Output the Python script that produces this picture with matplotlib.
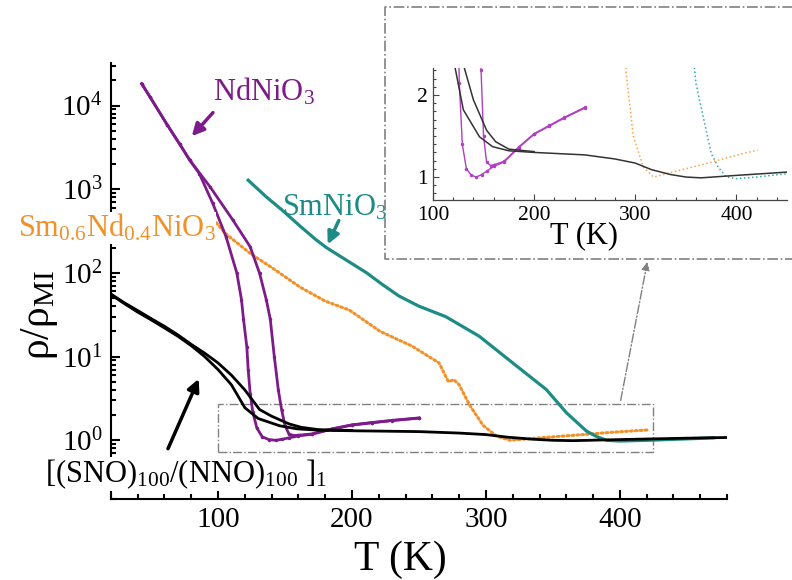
"""
Normalised resistivity rho/rho_MI vs T for the nickelates and the SNO/NNO bilayer,
with a linear-scale zoom of the transition region.
"""

import matplotlib
matplotlib.use("Agg")
import matplotlib.pyplot as plt
from matplotlib.lines import Line2D
from matplotlib.patches import Rectangle
from matplotlib.ticker import MultipleLocator, LogLocator, NullFormatter

# NdNiO3, two temperature sweeps (left one drops earlier)
nno_T_a = [43, 49, 62, 71.5, 79, 86, 96, 106, 114, 117.5, 119, 121.5, 122.5, 124,
           126, 129, 133, 138, 143, 148, 153, 160, 170, 185, 200, 215, 230, 250]
nno_a = [18200, 12800, 5900, 3430, 2210, 1540, 680, 270, 100, 48, 28, 13, 7, 3.6,
         2.15, 1.4, 1.1, 1.02, 1.0, 1.03, 1.07, 1.13, 1.18, 1.36, 1.52, 1.62, 1.72, 1.84]
nno_T_b = [43, 49, 62, 71.5, 79, 94, 111, 124, 131, 136, 139, 142, 145, 147.5,
           150, 153, 157, 160, 170, 185, 200, 215, 230, 250]
nno_b = [18200, 12800, 5900, 3430, 2210, 1070, 430, 205, 99, 48, 28, 10, 4, 2.3,
         1.5, 1.18, 1.14, 1.15, 1.19, 1.37, 1.53, 1.63, 1.73, 1.85]

# SmNiO3
sm_T = [122.5, 136, 148, 161, 173, 181, 198, 211, 222, 235, 250, 270, 295, 320,
        345, 360, 375, 382, 390, 400, 420, 450, 470]
sm = [1280, 810, 560, 365, 250, 200, 135, 100, 74, 53, 40, 30, 17.5, 8.4,
      4.05, 2.14, 1.29, 1.12, 1.0, 0.98, 1.0, 1.04, 1.07]

# Sm0.6Nd0.4NiO3
snd_T = [94, 105, 124, 140, 161, 180, 198, 221, 245, 265, 272, 276, 280, 288,
         298, 308, 318, 340, 366, 395, 421]
snd = [490, 300, 171, 116, 68, 46, 36, 20, 13.3, 8.4, 5.0, 5.3, 4.6, 2.6,
       1.5, 1.12, 1.0, 1.07, 1.15, 1.25, 1.33]

# [(SNO)100/(NNO)100]1 bilayer, two sweeps
sl_T_a = [20, 30, 40, 50, 60, 70, 80, 90, 100, 110, 120, 130, 146, 159, 175, 200,
          250, 280, 300, 316, 335, 350, 365, 400, 450, 480]
sl_a = [55, 43, 34, 27.5, 22, 17.5, 13.5, 10, 7.0, 4.6, 2.45, 1.82, 1.49, 1.37, 1.32, 1.30,
        1.27, 1.22, 1.17, 1.09, 1.03, 1.0, 0.99, 1.02, 1.06, 1.08]
sl_T_b = [20, 30, 40, 50, 60, 70, 80, 90, 100, 110, 120, 131, 140, 153, 162, 175, 200]
sl_b = [56, 44, 35.5, 28.5, 23, 18.2, 14, 11, 8.4, 6.0, 4.0, 2.33, 1.94, 1.57, 1.43, 1.34, 1.31]

PURPLE = "#7D1B8A"
TEAL = "#1C8C84"
ORANGE = "#F29128"


def draw_main(fig):
    ax = fig.add_axes([0.140, 0.140, 0.778, 0.751])
    ax.plot(snd_T, snd, color=ORANGE, lw=2.2, ls=(0, (0.6, 1.0)), dash_capstyle="round", zorder=3)
    ax.plot(sm_T, sm, color=TEAL, lw=2.3, zorder=3)
    ax.plot(nno_T_a, nno_a, color=PURPLE, lw=2, marker="o", ms=2.5, mew=0, zorder=4)
    ax.plot(nno_T_b, nno_b, color=PURPLE, lw=2, marker="o", ms=2.5, mew=0, zorder=4)
    ax.plot(sl_T_a, sl_a, color="black", lw=2, zorder=5)
    ax.plot(sl_T_b, sl_b, color="black", lw=2, zorder=5)

    ax.set_yscale("log")
    ax.set_xlim(20, 480)
    ax.set_ylim(0.2, 3.2e4)
    ax.xaxis.set_major_locator(MultipleLocator(100))
    ax.xaxis.set_minor_locator(MultipleLocator(20))
    ax.yaxis.set_major_locator(LogLocator(base=10, numticks=12))
    ax.yaxis.set_minor_locator(LogLocator(base=10, subs=range(2, 10), numticks=40))
    ax.yaxis.set_minor_formatter(NullFormatter())
    ax.tick_params(which="both", direction="in", labelsize=21, width=1.5)
    ax.tick_params(which="major", length=6.5, pad=6)
    ax.tick_params(which="minor", length=3.5)
    for side in ("top", "right"):
        ax.spines[side].set_visible(False)
    for side in ("left", "bottom"):
        ax.spines[side].set_linewidth(1.5)

    # zoom box
    ax.add_patch(Rectangle((100, 0.72), 325, 2.03, fill=False, ec="grey",
                           ls="-.", lw=1, zorder=2))

    ax.text(96, 1.15e4, "NdNiO$_3$", color=PURPLE, fontsize=22, va="baseline")
    ax.annotate("", xy=(79, 4060), xytext=(97.6, 8700),
                arrowprops=dict(arrowstyle="-|>", color=PURPLE, lw=2.5, mutation_scale=18))
    ax.text(147.6, 490, "SmNiO$_3$", color=TEAL, fontsize=22, va="baseline", zorder=1)
    ax.annotate("", xy=(181, 205), xytext=(191, 452),
                arrowprops=dict(arrowstyle="-|>", color=TEAL, lw=2.5, mutation_scale=18))
    ax.annotate("", xy=(86.4, 5.8), xytext=(61.8, 0.74),
                arrowprops=dict(arrowstyle="-|>", color="black", lw=2.5, mutation_scale=18))
    return ax


def draw_inset(fig):
    ins = fig.add_axes([0.5467, 0.6552, 0.447, 0.2276])
    ins.plot(snd_T, snd, color="#F5A650", lw=1.1, ls=":")
    ins.plot(sm_T, sm, color="#3AAAA6", lw=1.1, ls=":")
    ins.plot(nno_T_a, nno_a, color="#B040C0", lw=1, marker=".", ms=3)
    ins.plot(nno_T_b, nno_b, color="#B040C0", lw=1, marker=".", ms=3)
    ins.plot(sl_T_a, sl_a, color="#333333", lw=1.1)
    ins.plot(sl_T_b, sl_b, color="#333333", lw=1.1)

    ins.set_xlim(100, 450)
    ins.set_ylim(0.72, 2.33)
    ins.xaxis.set_major_locator(MultipleLocator(100))
    ins.xaxis.set_minor_locator(MultipleLocator(20))
    ins.yaxis.set_major_locator(MultipleLocator(1))
    ins.yaxis.set_minor_locator(MultipleLocator(0.1))
    ins.tick_params(which="both", direction="in", labelsize=15.5, width=0.8, colors="#444444",
                    labelcolor="black")
    ins.tick_params(which="major", length=4, pad=4)
    ins.tick_params(which="minor", length=2)
    for side in ("top", "right"):
        ins.spines[side].set_visible(False)
    for side in ("left", "bottom"):
        ins.spines[side].set_color("#444444")
        ins.spines[side].set_linewidth(0.9)
    return ins


def main():
    plt.rcParams["font.family"] = ["Liberation Serif", "DejaVu Serif"]
    plt.rcParams["mathtext.fontset"] = "custom"
    plt.rcParams["mathtext.rm"] = "Liberation Serif"
    plt.rcParams["mathtext.default"] = "regular"

    fig = plt.figure(figsize=(7.92, 5.80), dpi=100)
    ax = draw_main(fig)
    draw_inset(fig)

    # inset frame and pointer from the zoom box
    fig.add_artist(Line2D([1.01, 0.486, 0.486, 1.01], [0.988, 0.988, 0.5534, 0.5534],
                          transform=fig.transFigure, color="grey", ls="-.", lw=1.2))
    ax.annotate("", xy=(0.818, 0.553), xytext=(0.783, 0.305),
                xycoords="figure fraction", textcoords="figure fraction",
                arrowprops=dict(arrowstyle="-|>", color="grey", lw=1, ls="-.",
                                mutation_scale=12))

    fig.text(0.0227, 0.5914, "Sm$_{0.6}$Nd$_{0.4}$NiO$_3$", color=ORANGE, fontsize=22,
             va="baseline", bbox=dict(fc="white", ec="none", pad=0))
    fig.text(0.0568, 0.169, "[(SNO)$_{100}$/(NNO)$_{100}$ ]$_1$", fontsize=22,
             va="baseline", bbox=dict(fc="white", ec="none", pad=0))

    fig.text(0.506, 0.017, "T (K)", fontsize=30, ha="center", va="baseline")
    fig.text(0.05, 0.457, "ρ/ρ$_{MI}$", fontsize=30, rotation=90, ha="center", va="center")
    fig.text(0.737, 0.581, "T (K)", fontsize=22, ha="center", va="baseline")

    fig.savefig("out.png", dpi=100)
    plt.close(fig)


if __name__ == "__main__":
    main()
